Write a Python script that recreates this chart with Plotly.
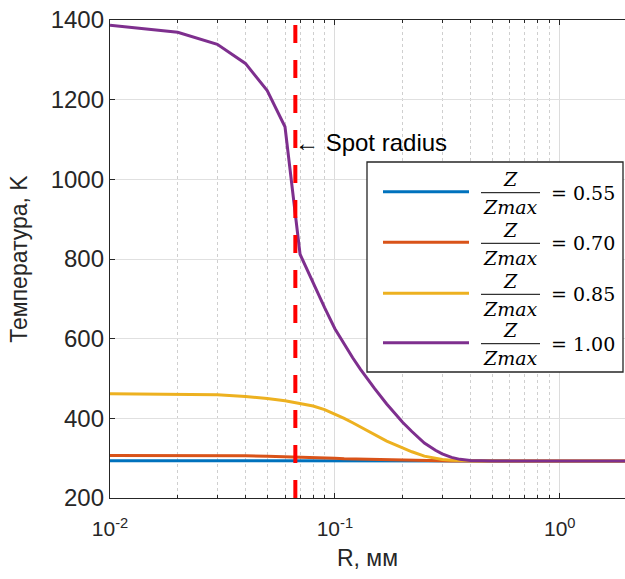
import math
import plotly.graph_objects as go

# ---------------- data ----------------
r_mm = [0.01, 0.02, 0.03, 0.04, 0.05, 0.06, 0.07, 0.08, 0.09, 0.10,
        0.11, 0.12, 0.13, 0.14, 0.15, 0.17, 0.20, 0.22, 0.25, 0.28,
        0.30, 0.33, 0.36, 0.40, 0.45, 0.50, 0.70, 1.00, 1.50, 2.00]

t_055 = [293.5, 293.5, 293.5, 293.5, 293.4, 293.4, 293.3, 293.3, 293.2, 293.2,
         293.1, 293.1, 293.1, 293.0, 293.0, 293.0, 293.0, 293.0, 293.0, 293.0,
         293.0, 293.0, 293.0, 293.0, 293.0, 293.0, 293.0, 293.0, 293.0, 293.0]

t_070 = [307, 307, 306.5, 306, 305, 304, 302.5, 301.5, 300.5, 299.5,
         298.5, 298, 297.5, 297, 296.5, 295.5, 294.5, 294, 293.7, 293.5,
         293.3, 293.2, 293.1, 293, 293, 293, 293, 293, 293, 293]

t_085 = [462, 461, 459, 455, 450, 444, 438, 431, 422, 411,
         400, 389, 378, 368, 359, 343, 326, 316, 305, 299,
         296.5, 294.5, 293.6, 293.2, 293, 293, 293, 293, 293, 293]

t_100 = [1387, 1369, 1339, 1291, 1223, 1132, 812, 740, 678, 625,
         585, 552, 523, 498, 475, 436, 390, 367, 338, 320,
         311, 302, 297, 294, 293, 293, 293, 293, 293, 293]

series_names = ["0.55", "0.70", "0.85", "1.00"]
series_values = [t_055, t_070, t_085, t_100]
series_colors = ["#0072BD", "#D95319", "#EDB120", "#7E2F8E"]

spot_radius = 0.0667
spot_label_T = 1093

x_range = [0.01, 1.95]
y_range = [200, 1400]
y_ticks = [200, 400, 600, 800, 1000, 1200, 1400]
x_ticks = [0.01, 0.1, 1]
x_ticktext = ["10<sup>-2</sup>", "10<sup>-1</sup>", "10<sup>0</sup>"]

# ---------------- figure ----------------
W, H = 625, 579
ML, MR, MT, MB = 110, 0, 20, 81
PW, PH = W - ML - MR, H - MT - MB

def px(xp):
    return (xp - ML) / PW

def py(yp):
    return (H - MB - yp) / PH

fig = go.Figure()

for name, vals, col in zip(series_names, series_values, series_colors):
    fig.add_trace(go.Scatter(x=r_mm, y=vals, mode="lines",
                             line=dict(color=col, width=3),
                             name=name, showlegend=False))

fig.add_trace(go.Scatter(x=[spot_radius, spot_radius], y=[y_range[0], y_range[1]],
                         mode="lines", showlegend=False,
                         line=dict(color="#FF0000", width=4, dash="18px,17px")))

axis_col = "#262626"
sans = "Liberation Sans, Arial, sans-serif"
ytick_font = dict(family=sans, size=24, color=axis_col)
xtick_font = dict(family=sans, size=21, color=axis_col)
title_font = dict(family=sans, size=23, color=axis_col)

fig.update_xaxes(type="log", range=[math.log10(x_range[0]), math.log10(x_range[1])],
                 tickmode="array", tickvals=x_ticks, ticktext=x_ticktext,
                 ticks="inside", ticklen=5, tickcolor=axis_col,
                 showline=True, linecolor=axis_col, linewidth=1.3, mirror="ticks",
                 showgrid=True, gridcolor="#dcdcdc", gridwidth=1,
                 minor=dict(dtick="D1", ticks="inside", ticklen=3, tickcolor=axis_col,
                            showgrid=True, gridcolor="#cfcfcf", griddash="dot", gridwidth=1),
                 zeroline=False, tickfont=xtick_font, ticklabelstandoff=12,
                 title=dict(text="R, мм", font=title_font, standoff=10))

fig.update_yaxes(range=y_range, tickmode="array", tickvals=y_ticks,
                 ticks="inside", ticklen=5, tickcolor=axis_col,
                 showline=True, linecolor=axis_col, linewidth=1.3, mirror=False,
                 showgrid=True, gridcolor="#e0e0e0", gridwidth=1,
                 zeroline=False, tickfont=ytick_font,
                 title=dict(text="Температура, K", font=title_font, standoff=16))

# spot radius label
fig.add_annotation(x=math.log10(spot_radius), y=spot_label_T, xref="x", yref="y",
                   text="\u2190 Spot radius", showarrow=False, xanchor="left", yanchor="middle",
                   xshift=-2, font=dict(family=sans, size=24, color="#000000"))

# manual legend
shapes = [dict(type="rect", xref="paper", yref="paper",
               x0=px(367), x1=px(623), y0=py(372), y1=py(162),
               line=dict(color=axis_col, width=1.3), fillcolor="white", layer="above")]
entry_y = [191.7, 242.3, 293.3, 342.7]
math_font = dict(family="DejaVu Serif, serif", size=19, color="#000000")
for yy, name, col in zip(entry_y, series_names, series_colors):
    shapes.append(dict(type="line", xref="paper", yref="paper",
                       x0=px(383), x1=px(469), y0=py(yy), y1=py(yy),
                       line=dict(color=col, width=3), layer="above"))
    shapes.append(dict(type="line", xref="paper", yref="paper",
                       x0=px(481), x1=px(540), y0=py(yy + 1), y1=py(yy + 1),
                       line=dict(color="#000000", width=1), layer="above"))
    fig.add_annotation(x=px(510.5), y=py(yy - 12.5), xref="paper", yref="paper",
                       text="<i>Z</i>", showarrow=False, xanchor="center", yanchor="middle",
                       font=math_font)
    fig.add_annotation(x=px(510.5), y=py(yy + 15.5), xref="paper", yref="paper",
                       text="<i>Zmax</i>", showarrow=False, xanchor="center", yanchor="middle",
                       font=math_font)
    fig.add_annotation(x=px(549), y=py(yy + 1), xref="paper", yref="paper",
                       text="= " + name, showarrow=False, xanchor="left", yanchor="middle",
                       font=math_font)

fig.update_layout(width=W, height=H, margin=dict(l=ML, r=MR, t=MT, b=MB),
                  paper_bgcolor="white", plot_bgcolor="white",
                  shapes=shapes, showlegend=False)

fig.write_html("out.html")
